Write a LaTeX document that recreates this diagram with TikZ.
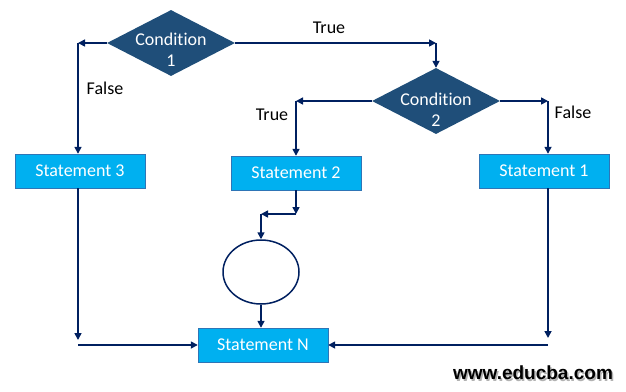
\documentclass[tikz,border=0pt]{standalone}
\usepackage{fontspec}
\setmainfont{Carlito}[Ligatures=NoCommon]
\newfontfamily\webfont{Liberation Sans}
\usetikzlibrary{arrows.meta,positioning,shapes.geometric}
\definecolor{navyline}{HTML}{002060}
\definecolor{condblue}{HTML}{1F4E79}
\definecolor{stmtblue}{HTML}{00B0F0}
\definecolor{stmtedge}{HTML}{2E75B6}
\begin{document}
\begin{tikzpicture}[
			x=1pt,y=-1pt,
			every node/.style={font=\fontsize{18}{21}\selectfont},
			cond/.style={diamond, fill=condblue, aspect=1.94, inner sep=0pt, minimum width=128pt, minimum height=66pt},
			condtext/.style={text=white, align=center, yshift=-7pt},
			stmt/.style={draw=stmtedge, fill=stmtblue, text=white, minimum width=130pt, minimum height=34pt, inner sep=0pt},
			merger/.style={ellipse, draw=navyline, line width=1.5pt, fill=white, minimum width=76pt, minimum height=64pt},
			lbl/.style={text=black},
			arrow/.style={-{Triangle[length=7pt,width=7pt]}, navyline, line width=1.6pt}
			]
			\useasboundingbox (0,0) rectangle (626,391);
			
			\node[cond] (cond1) at (171,43) {};
			\node[condtext] (cond1txt) at (cond1) {Condition\\1};
			\node[cond] (cond2) at (436,101) {};
			\node[condtext,yshift=-2pt] (cond2txt) at (cond2) {Condition\\2};
			\node[stmt] (stmt3) at (80,171) {Statement 3};
			\node[stmt] (stmt2) at (296,173) {Statement 2};
			\node[stmt] (stmt1) at (544,171) {Statement 1};
			\node[merger] (merge) at (261,272) {};
			\node[stmt] (stmtN) at (263,345) {Statement N};
			
			\coordinate (c1l) at (78,43);
			\coordinate (c1r) at (436,43);
			\coordinate (c2l) at (296,101);
			\coordinate (c2r) at (548,101);
			\coordinate (s2d) at (296,214);
			\coordinate (s2l) at (261,214);
			\coordinate (s3d) at (78,340);
			\coordinate (s3j) at (78,345);
			\coordinate (s1d) at (548,338);
			\coordinate (s1j) at (548,345);
			
			\draw[arrow] (cond1.west) -- (c1l);
			\draw[arrow] (c1l) -- (c1l |- stmt3.north);
			\draw[arrow] (cond1.east) -- (c1r);
			\draw[arrow] (c1r) -- (cond2.north);
			\draw[arrow] (cond2.west) -- (c2l);
			\draw[arrow] (c2l) -- (stmt2.north);
			\draw[arrow] (cond2.east) -- (c2r);
			\draw[arrow] (c2r) -- (c2r |- stmt1.north);
			\draw[arrow] (stmt2.south) -- (s2d);
			\draw[arrow] (s2d) -- (s2l);
			\draw[arrow] (s2l) -- (merge.north);
			\draw[arrow] (merge.south) -- (merge.south |- stmtN.north);
			\draw[arrow] (stmt3.south -| s3d) -- (s3d);
			\draw[arrow] (s3j) -- (stmtN.west);
			\draw[arrow] (stmt1.south -| s1d) -- (s1d);
			\draw[arrow] (s1j) -- (stmtN.east);
			
			\node[lbl] (true1) at (329,28) {True};
			\node[lbl] (false1) at (105,88) {False};
			\node[lbl] (true2) at (272,115) {True};
			\node[lbl] (false2) at (573,112) {False};
			
			\node[text=black!30, font=\webfont\bfseries\fontsize{19}{21}\selectfont] (siteshadow) at (534.5,374.5) {www.educba.com};
			\node[text=black, font=\webfont\bfseries\fontsize{19}{21}\selectfont] (site) at (533,373) {www.educba.com};
			
		\end{tikzpicture}
\end{document}
